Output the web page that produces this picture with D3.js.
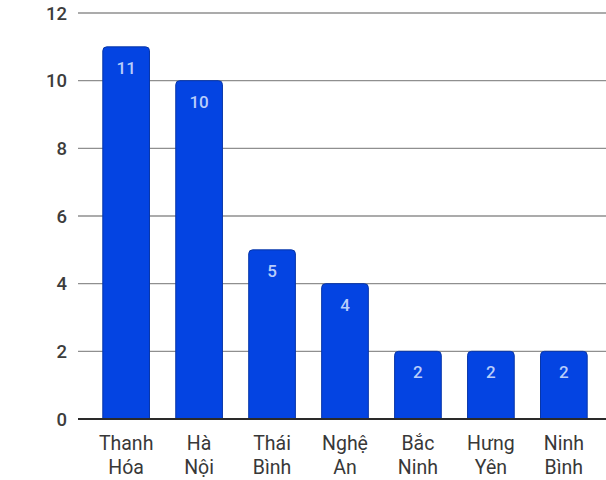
<!DOCTYPE html>
<html><head><meta charset="utf-8">
<script src="https://cdn.jsdelivr.net/npm/d3@7"></script>
<style>html,body{margin:0;padding:0;background:#fff;}svg{display:block;}</style>
</head><body>
<svg id="chart" width="606" height="480"></svg>
<script>
const categories = [["Thanh","Hóa"],["Hà","Nội"],["Thái","Bình"],["Nghệ","An"],["Bắc","Ninh"],["Hưng","Yên"],["Ninh","Bình"]];
const values = [11, 10, 5, 4, 2, 2, 2];
const yTicks = [0, 2, 4, 6, 8, 10, 12];

const svg = d3.select("#chart");
const font = "Roboto, 'Noto Sans', sans-serif";
const y = d3.scaleLinear().domain([0, 12]).range([419, 13]);
const x = d3.scaleBand().domain(d3.range(values.length)).range([78, 612]).paddingInner(0.36).paddingOuter(0.34);

// grid
svg.append("g").selectAll("line").data(yTicks.filter(d => d > 0)).join("line")
  .attr("x1", 78).attr("x2", 606).attr("y1", d => y(d)).attr("y2", d => y(d))
  .attr("stroke", "#8f8f8f").attr("stroke-width", 1.3);

// y labels
svg.append("g").selectAll("text").data(yTicks).join("text")
  .attr("x", 67).attr("y", d => y(d)).attr("dy", "0.36em").attr("text-anchor", "end")
  .attr("font-family", font).attr("font-size", 18.5).attr("font-weight", 500).attr("fill", "#3c3c3c").text(d => d);

// bars with rounded top corners
const r = 4;
svg.append("g").selectAll("path").data(values).join("path")
  .attr("d", (d, i) => {
    const x0 = x(i), w = x.bandwidth(), y0 = y(d), y1 = y(0);
    return `M${x0},${y1}V${y0 + r}Q${x0},${y0} ${x0 + r},${y0}H${x0 + w - r}Q${x0 + w},${y0} ${x0 + w},${y0 + r}V${y1}Z`;
  })
  .attr("fill", "#0444e2").attr("stroke", "#0836a8").attr("stroke-width", 1);

// value labels
svg.append("g").selectAll("text").data(values).join("text")
  .attr("x", (d, i) => x(i) + x.bandwidth() / 2).attr("y", d => y(d) + 27)
  .attr("text-anchor", "middle").attr("font-family", font).attr("font-size", 17).attr("font-weight", 500)
  .attr("fill", "#b9cdfa").text(d => d);

// baseline
svg.append("line").attr("x1", 78).attr("x2", 606).attr("y1", y(0)).attr("y2", y(0))
  .attr("stroke", "#2a2a2a").attr("stroke-width", 2.2);

// x labels
const xl = svg.append("g").selectAll("text").data(categories).join("text")
  .attr("text-anchor", "middle").attr("font-family", font).attr("font-size", 19.5).attr("font-weight", 400).attr("fill", "#383838");
xl.each(function(d, i) {
  const t = d3.select(this);
  const cx = x(i) + x.bandwidth() / 2;
  t.append("tspan").attr("x", cx).attr("y", 450).text(d[0]);
  t.append("tspan").attr("x", cx).attr("y", 474).text(d[1]);
});
</script>
</body></html>
